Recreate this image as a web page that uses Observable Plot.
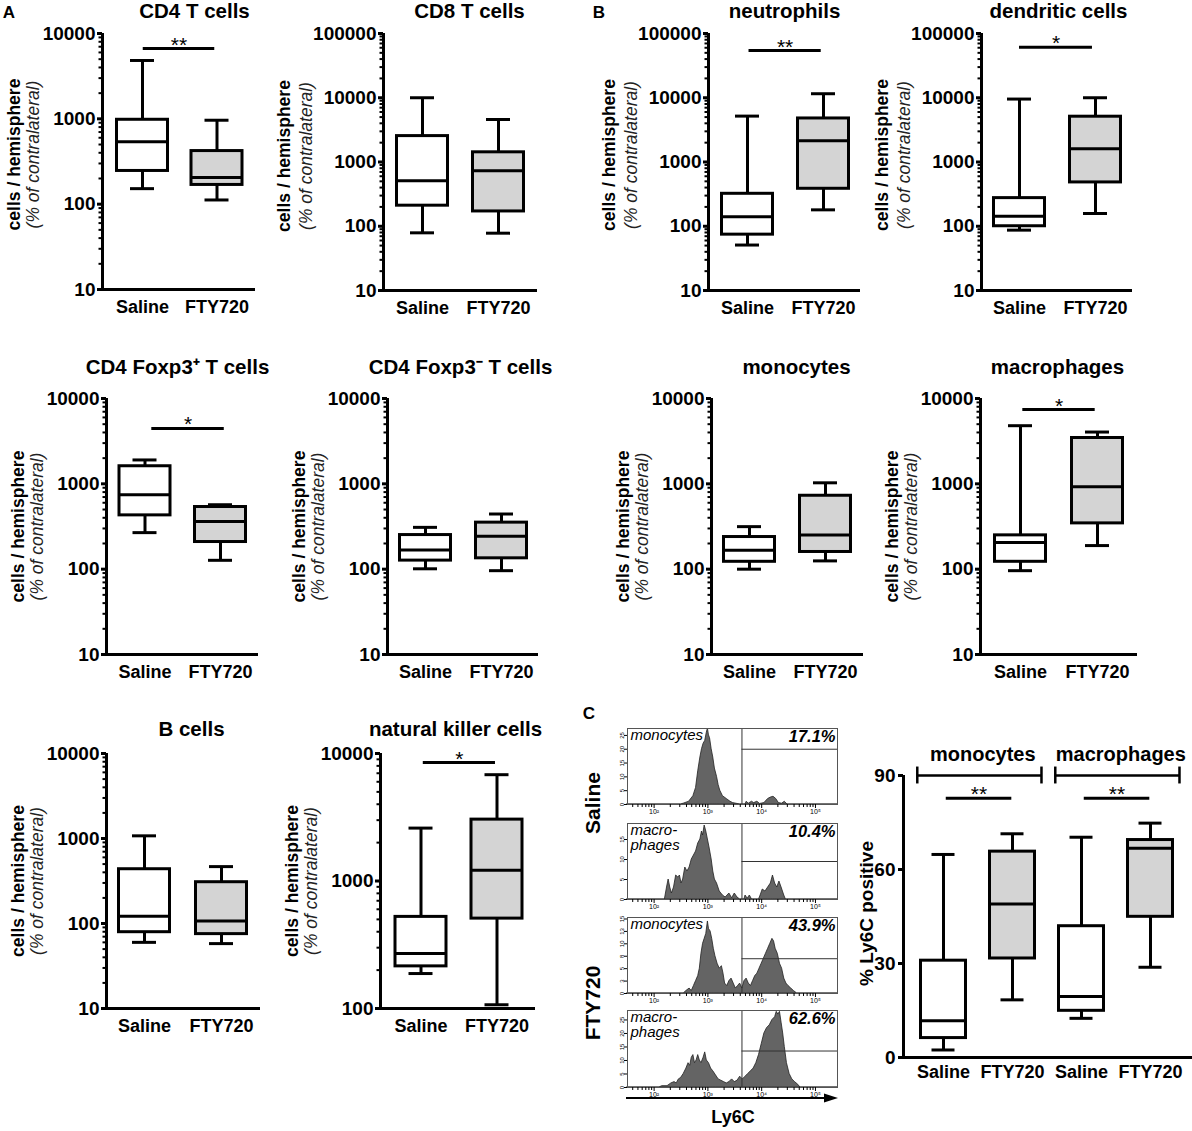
<!DOCTYPE html>
<html><head><meta charset="utf-8">
<script src="https://cdn.jsdelivr.net/npm/d3@7"></script>
<script src="https://cdn.jsdelivr.net/npm/@observablehq/plot@0.6"></script>
<style>
html,body{margin:0;padding:0;background:#fff;}
#fig{position:relative;width:1192px;height:1131px;overflow:hidden;background:#fff;font-family:"Liberation Sans",Arial,sans-serif;color:#000;}
#fig .panel{position:absolute;}
#fig .lbl{position:absolute;white-space:nowrap;line-height:1;font-weight:bold;}
</style></head><body><div id="fig"></div>
<script>
// ---------- DATA ----------
const groups = ["Saline", "FTY720"];
// five-number summaries per group: [min, Q1, median, Q3, max]  (cells / hemisphere, % of contralateral)
const cd4TCells      = [[152, 245, 540, 975, 4830], [112, 168, 205, 419, 963]];
const cd8TCells      = [[79, 209, 512, 2530, 10000], [78, 170, 732, 1415, 4590]];
const neutrophils    = [[51, 74, 141, 320, 5180], [180, 383, 2150, 4760, 11550]];
const dendriticCells = [[87, 100, 143, 274, 9540], [158, 481, 1610, 5070, 10000]];
const cd4Foxp3Pos    = [[268, 427, 745, 1607, 1905], [127, 208, 363, 535, 569]];
const cd4Foxp3Neg    = [[101, 126, 168, 251, 309], [96, 134, 243, 351, 443]];
const monocytes      = [[100, 122, 167, 238, 315], [125, 159, 252, 725, 1028]];
const macrophages    = [[96, 122, 205, 249, 4800], [189, 344, 923, 3445, 4045]];
const bCells         = [[60, 79, 122, 435, 1075], [58, 75, 107, 306, 467]];
const nkCells        = [[188, 214, 270, 523, 2600], [107, 507, 1212, 3030, 6820]];

// panel C: % Ly6C positive
const ly6cGroups   = ["Saline", "FTY720", "Saline", "FTY720"];
const ly6cCellType = ["monocytes", "macrophages"];
const ly6cPositive = [[2.4, 6.2, 11.7, 30.9, 64.8], [18.4, 31.6, 49, 65.7, 71.4],
                      [12.5, 14.9, 19.5, 41.9, 70.3], [28.8, 44.9, 66.8, 69.4, 74.8]];

// panel C histograms: [log10 Ly6C, count]
const histSalineMonocytes = [[1.5,0],[2.5,0],[2.55,0.3],[2.65,1],[2.73,3],[2.78,6],[2.82,12],[2.86,17],[2.89,20],[2.92,22],[2.95,23],[2.98,26],[3.0,27.5],[3.02,25],[3.04,24],[3.07,20],[3.1,17],[3.13,13],[3.17,10],[3.2,7],[3.23,5],[3.28,3],[3.35,2],[3.42,1],[3.47,0.5],[3.55,0.2],[3.6,0],[3.7,0],[3.72,1],[3.76,0.3],[3.82,1],[3.86,0.5],[3.92,1],[3.97,0.2],[4.05,0.5],[4.12,2],[4.17,2.5],[4.22,2.8],[4.27,2],[4.32,0.5],[4.38,0.3],[4.43,1],[4.48,0],[5.41,0]];
const histSalineMacrophages = [[1.5,0],[2.2,0],[2.24,3],[2.27,5],[2.3,3],[2.33,1.5],[2.37,3],[2.41,6],[2.45,5.5],[2.48,6],[2.51,4],[2.54,5],[2.58,8],[2.62,7],[2.66,8],[2.7,10],[2.74,11],[2.78,12],[2.82,14],[2.86,15],[2.89,17],[2.91,16],[2.94,18.5],[2.97,17],[3.0,15],[3.03,13],[3.07,10],[3.1,7],[3.13,5],[3.17,4],[3.22,2],[3.28,1],[3.33,0.5],[3.4,1.5],[3.45,0.3],[3.5,1.5],[3.55,0.5],[3.6,0],[3.68,0],[3.7,1],[3.74,0.2],[3.78,1],[3.82,0],[3.95,0],[3.98,1],[4.02,2.5],[4.07,2],[4.12,3],[4.17,4],[4.21,6],[4.25,4],[4.29,3],[4.33,4.5],[4.37,3],[4.42,1],[4.45,0],[5.41,0]];
const histFtyMonocytes = [[1.5,0],[2.55,0],[2.6,0.5],[2.66,1],[2.7,0.5],[2.74,1.5],[2.78,2.5],[2.82,3.5],[2.85,5],[2.88,8],[2.91,10],[2.94,11],[2.97,12],[3.0,14.5],[3.02,13],[3.05,12.5],[3.08,11],[3.11,9],[3.14,7.5],[3.18,6],[3.22,5],[3.26,5.5],[3.29,4],[3.32,2],[3.36,1.5],[3.4,2.5],[3.44,3],[3.48,2],[3.52,1],[3.56,1.5],[3.6,2],[3.64,1],[3.68,2.5],[3.72,3],[3.76,2],[3.8,1.5],[3.84,2.5],[3.88,3.5],[3.92,4],[3.96,5],[4.0,6],[4.04,7],[4.08,8],[4.12,9],[4.16,10],[4.2,11],[4.23,10.5],[4.26,9],[4.3,8],[4.34,6],[4.38,5],[4.42,3],[4.46,2],[4.5,1.5],[4.55,1],[4.6,0.5],[4.66,0],[5.41,0]];
const histFtyMacrophages = [[1.5,0],[2.1,0],[2.15,0.5],[2.25,0.5],[2.32,1.5],[2.38,2],[2.42,1.5],[2.46,3],[2.5,3.5],[2.55,5],[2.6,7],[2.64,9],[2.67,8],[2.7,11],[2.73,12],[2.76,9],[2.79,10],[2.82,12],[2.85,10],[2.88,9],[2.92,11],[2.95,13],[2.98,10],[3.02,9],[3.06,7],[3.1,6],[3.15,4.5],[3.2,3],[3.25,2.5],[3.3,2],[3.35,1.5],[3.4,2],[3.45,3],[3.5,2],[3.55,2.5],[3.6,4],[3.65,3],[3.7,4],[3.75,5],[3.8,6],[3.85,7],[3.9,9],[3.95,12],[4.0,16],[4.05,20],[4.1,22],[4.15,23],[4.2,25],[4.25,26],[4.28,28],[4.31,27],[4.34,28],[4.37,24],[4.4,20],[4.43,15],[4.47,9],[4.52,5],[4.57,3],[4.62,2],[4.68,1],[4.72,0],[5.41,0]];
const ly6cPercent = ["17.1%", "10.4%", "43.9%", "62.6%"];
const ly6cGate = 4300;

// ---------- LAYOUT ----------
const FONT = '"Liberation Sans", Arial, sans-serif';
const fig = document.getElementById("fig");
function place(node, left, top) {
  const w = document.createElement("div");
  w.className = "panel"; w.style.left = left + "px"; w.style.top = top + "px";
  w.appendChild(node); fig.appendChild(w);
}
function label(text, cx, cy, size, rotate) {
  const d = document.createElement("div");
  d.className = "lbl"; d.textContent = text;
  d.style.left = cx + "px"; d.style.top = cy + "px"; d.style.fontSize = size + "px";
  d.style.transform = "translate(-50%,-50%)" + (rotate ? ` rotate(${rotate}deg)` : "");
  fig.appendChild(d);
}
function logTicks(lo, hi) {
  const major = [], minor = [];
  for (let d = lo; d <= hi; d *= 10) {
    major.push(d);
    if (d * 10 <= hi) for (let m = 2; m <= 9; m++) minor.push(d * m);
  }
  return {major, minor};
}
const baseStyle = {background: "transparent", overflow: "visible", maxWidth: "none", fontFamily: FONT, color: "#000"};

const panels = [
  {title: "CD4 T cells", stats: cd4TCells, domain: [10, 1e4], frame: [102, 255, 33, 289], centers: [142, 216.5], titleX: 194, titleDy: -22, labelDy: -7, sig: "**", sigY: 6670, sigX: [0.01, 0.97]},
  {title: "CD8 T cells", stats: cd8TCells, domain: [10, 1e5], frame: [383, 537, 33, 290], centers: [422, 498], titleX: 469, titleDy: -22, labelDy: -6},
  {title: "neutrophils", stats: neutrophils, domain: [10, 1e5], frame: [708, 860, 33, 290], centers: [747, 823], titleX: 784, titleDy: -22, labelDy: -7, sig: "**", sigY: 54300, sigX: [0.02, 0.97]},
  {title: "dendritic cells", stats: dendriticCells, domain: [10, 1e5], frame: [981, 1132, 33, 290], centers: [1019, 1095], titleX: 1058, titleDy: -22, labelDy: -7, sig: "*", sigY: 61200, sigX: [0, 0.96]},
  {title: "CD4 Foxp3\u207A T cells", stats: cd4Foxp3Pos, domain: [10, 1e4], frame: [106, 258, 398, 654], centers: [144.5, 220], titleX: 177, titleDy: -31, labelDy: 0, sig: "*", sigY: 4460, sigX: [0.09, 1.05]},
  {title: "CD4 Foxp3\u207B T cells", stats: cd4Foxp3Neg, domain: [10, 1e4], frame: [387, 538, 398, 654], centers: [425, 501], titleX: 460, titleDy: -31, labelDy: 0},
  {title: "monocytes", stats: monocytes, domain: [10, 1e4], frame: [711, 863, 398, 654], centers: [749, 825], titleX: 796, titleDy: -31, labelDy: 0},
  {title: "macrophages", stats: macrophages, domain: [10, 1e4], frame: [980, 1137, 398, 654], centers: [1020, 1097], titleX: 1057, titleDy: -31, labelDy: 0, sig: "*", sigY: 7430, sigX: [0.03, 0.97]},
  {title: "B cells", stats: bCells, domain: [10, 1e4], frame: [106, 260, 753, 1008], centers: [144, 221], titleX: 191, titleDy: -24, labelDy: 0},
  {title: "natural killer cells", stats: nkCells, domain: [100, 1e4], frame: [380, 535, 753, 1008], centers: [420.5, 496.5], titleX: 455, titleDy: -24, labelDy: 0, sig: "*", sigY: 8490, sigX: [0.03, 0.98]}
];

function boxPanel(p) {
  const [x0, x1, y0, y1] = p.frame;
  const [c0, c1] = p.centers;
  const k = c1 - c0;
  const mL = Math.min(120, x0), mT = Math.min(42, y0), mR = 14, mB = 34;
  const sx = x0 - mL, sy = y0 - mT;
  const width = x1 - sx + mR, height = y1 - sy + mB;
  const xd = [(x0 - c0) / k, 1 + (x1 - c1) / k];
  const rows = p.stats.map((s, i) => ({i, g: groups[i], min: s[0], q1: s[1], med: s[2], q3: s[3], max: s[4]}));
  const bh = 25.5 / k, ch = 12 / k;
  const {major, minor} = logTicks(p.domain[0], p.domain[1]);
  const wide = String(p.domain[1]).length > 5;
  const marks = [
    Plot.ruleX(rows, {x: "i", y1: "min", y2: "q1", strokeWidth: 3}),
    Plot.ruleX(rows, {x: "i", y1: "q3", y2: "max", strokeWidth: 3}),
    Plot.ruleY(rows, {y: "min", x1: d => d.i - ch, x2: d => d.i + ch, strokeWidth: 3}),
    Plot.ruleY(rows, {y: "max", x1: d => d.i - ch, x2: d => d.i + ch, strokeWidth: 3}),
    Plot.rect(rows, {x1: d => d.i - bh, x2: d => d.i + bh, y1: "q1", y2: "q3", fill: d => d.i ? "#d4d4d4" : "#ffffff", stroke: "#000", strokeWidth: 3}),
    Plot.ruleY(rows, {y: "med", x1: d => d.i - bh, x2: d => d.i + bh, strokeWidth: 3}),
    Plot.axisY({ticks: major, tickFormat: d => String(d), tickSize: 5, tickPadding: 2, strokeWidth: 3, fontSize: 19, fontWeight: "bold", label: null}),
    Plot.axisY({ticks: minor, tickFormat: () => "", tickSize: 3.5, strokeWidth: 2, label: null}),
    Plot.ruleX([xd[0]], {strokeWidth: 3}),
    Plot.ruleY([p.domain[0]], {strokeWidth: 3}),
    Plot.text(rows, {x: "i", text: "g", frameAnchor: "bottom", dy: 18, lineAnchor: "middle", fontSize: 18, fontWeight: "bold"}),
    Plot.text([p.title], {x: (p.titleX - c0) / k, text: d => d, frameAnchor: "top", dy: p.titleDy, lineAnchor: "middle", fontSize: 20.5, fontWeight: "bold"}),
    Plot.text(["cells / hemisphere"], {text: d => d, frameAnchor: "left", dx: wide ? -99 : -88, dy: p.labelDy, textAnchor: "middle", lineAnchor: "middle", rotate: -90, fontSize: 17.5, fontWeight: "bold"}),
    Plot.text(["(% of contralateral)"], {text: d => d, frameAnchor: "left", dx: wide ? -77 : -69, dy: p.labelDy, textAnchor: "middle", lineAnchor: "middle", rotate: -90, fontSize: 17.5, fontStyle: "italic", fill: "#222"})
  ];
  if (p.sig) {
    marks.push(Plot.ruleY([p.sigY], {y: d => d, x1: p.sigX[0], x2: p.sigX[1], strokeWidth: 3}));
    marks.push(Plot.text([p.sig], {text: d => d, x: (p.sigX[0] + p.sigX[1]) / 2, y: p.sigY, lineAnchor: "bottom", dy: 3, fontSize: 21}));
  }
  const svg = Plot.plot({
    width, height, marginLeft: mL, marginRight: mR, marginTop: mT, marginBottom: mB,
    x: {type: "linear", domain: xd, axis: null},
    y: {type: "log", domain: p.domain, label: null},
    style: baseStyle, marks
  });
  place(svg, sx, sy);
}
panels.forEach(boxPanel);

// ---------- PANEL C: box plot ----------
(function () {
  const x0 = 903, x1 = 1192, y0 = 775, y1 = 1057, c0 = 943, step = 69;
  const mL = 60, mT = 45, mR = 0, mB = 32;
  const xd = [(x0 - c0) / step, (x1 - c0) / step];
  const rows = ly6cPositive.map((s, i) => ({i, g: ly6cGroups[i], min: s[0], q1: s[1], med: s[2], q3: s[3], max: s[4]}));
  const bh = 22.5 / step, ch = 11.5 / step;
  const brackets = ly6cCellType.map((t, j) => ({t, a: 2 * j - 0.38, b: 2 * j + 1.42, m: 2 * j + 0.57}));
  const ends = brackets.flatMap(b => [b.a, b.b]);
  const sigs = ly6cCellType.map((t, j) => ({a: 2 * j + 0.04, b: 2 * j + 0.99, y: 82.7}));
  const svg = Plot.plot({
    width: mL + (x1 - x0) + mR, height: mT + (y1 - y0) + mB,
    marginLeft: mL, marginRight: mR, marginTop: mT, marginBottom: mB,
    x: {type: "linear", domain: xd, axis: null},
    y: {domain: [0, 90], label: null},
    style: baseStyle,
    marks: [
      Plot.ruleX(rows, {x: "i", y1: "min", y2: "q1", strokeWidth: 3}),
      Plot.ruleX(rows, {x: "i", y1: "q3", y2: "max", strokeWidth: 3}),
      Plot.ruleY(rows, {y: "min", x1: d => d.i - ch, x2: d => d.i + ch, strokeWidth: 3}),
      Plot.ruleY(rows, {y: "max", x1: d => d.i - ch, x2: d => d.i + ch, strokeWidth: 3}),
      Plot.rect(rows, {x1: d => d.i - bh, x2: d => d.i + bh, y1: "q1", y2: "q3", fill: d => d.i % 2 ? "#d4d4d4" : "#ffffff", stroke: "#000", strokeWidth: 3}),
      Plot.ruleY(rows, {y: "med", x1: d => d.i - bh, x2: d => d.i + bh, strokeWidth: 3}),
      Plot.axisY({ticks: [0, 30, 60, 90], tickSize: 5, tickPadding: 3, strokeWidth: 3, fontSize: 19, fontWeight: "bold", label: null}),
      Plot.ruleX([xd[0]], {strokeWidth: 3}),
      Plot.ruleY([0], {strokeWidth: 3}),
      Plot.text(rows, {x: "i", text: "g", frameAnchor: "bottom", dy: 15, lineAnchor: "middle", fontSize: 18, fontWeight: "bold"}),
      Plot.ruleY(brackets, {y: () => 90, x1: "a", x2: "b", strokeWidth: 2.5}),
      Plot.ruleX(ends, {x: d => d, y1: () => 87.3, y2: () => 92.7, strokeWidth: 2.5}),
      Plot.text(brackets, {x: "m", text: "t", frameAnchor: "top", dy: -21, lineAnchor: "middle", fontSize: 20, fontWeight: "bold"}),
      Plot.ruleY(sigs, {y: "y", x1: "a", x2: "b", strokeWidth: 3}),
      Plot.text(sigs, {x: d => (d.a + d.b) / 2, y: "y", text: () => "**", lineAnchor: "bottom", dy: 3, fontSize: 21}),
      Plot.text(["% Ly6C positive"], {text: d => d, frameAnchor: "left", dx: -37, dy: -3, textAnchor: "middle", lineAnchor: "middle", rotate: -90, fontSize: 19, fontWeight: "bold"})
    ]
  });
  place(svg, x0 - mL, y0 - mT);
})();

// ---------- PANEL C: histograms ----------
const ly6cDomain = [32, 257000];
const supDigits = {2: "\u00B2", 3: "\u00B3", 4: "\u2074", 5: "\u2075"};
const histPanels = [
  {name: ["monocytes"], pct: ly6cPercent[0], data: histSalineMonocytes, ymax: 27.5, yticks: [0, 5, 10, 15, 20, 25], gateY: 20, frame: [627, 837, 728, 804]},
  {name: ["macro-", "phages"], pct: ly6cPercent[1], data: histSalineMacrophages, ymax: 19, yticks: [0, 5, 10, 15], gateY: 9.5, frame: [627, 837, 823, 899]},
  {name: ["monocytes"], pct: ly6cPercent[2], data: histFtyMonocytes, ymax: 15.3, yticks: [0, 2.5, 5, 7.5, 10, 12.5, 15], gateY: 7, frame: [627, 837, 917, 993]},
  {name: ["macro-", "phages"], pct: ly6cPercent[3], data: histFtyMacrophages, ymax: 28.5, yticks: [0, 5, 10, 15, 20, 25], gateY: 13.5, frame: [627, 837, 1010, 1087]}
];
const histTicks = logTicks(10, 1e5);
histPanels.forEach(h => {
  const [x0, x1, y0, y1] = h.frame;
  const mL = 18, mR = 6, mT = 4, mB = 14;
  const svg = Plot.plot({
    width: x1 - x0 + mL + mR, height: y1 - y0 + mT + mB,
    marginLeft: mL, marginRight: mR, marginTop: mT, marginBottom: mB,
    x: {type: "log", domain: ly6cDomain, label: null},
    y: {domain: [0, h.ymax], label: null},
    style: baseStyle,
    marks: [
      Plot.areaY(h.data, {x: d => 10 ** d[0], y: d => d[1], fill: "#646464", stroke: "#222", strokeWidth: 0.8}),
      Plot.ruleX([ly6cGate], {stroke: "#333", strokeWidth: 1}),
      Plot.ruleY([h.gateY], {y: d => d, x1: ly6cGate, x2: ly6cDomain[1], stroke: "#333", strokeWidth: 1}),
      Plot.frame({stroke: "#555", strokeWidth: 1}),
      Plot.axisX({ticks: histTicks.major.filter(d => d >= 100), tickFormat: d => "10" + supDigits[Math.round(Math.log10(d))], tickSize: 4, tickPadding: 1, fontSize: 7, label: null}),
      Plot.axisX({ticks: histTicks.minor.filter(d => d >= ly6cDomain[0]), tickFormat: () => "", tickSize: 3, label: null}),
      Plot.axisY({ticks: h.yticks, tickSize: 3, tickPadding: 1, fontSize: 6, tickRotate: -90, label: null}),
      ...h.name.map((line, j) => Plot.text([line], {text: d => d, frameAnchor: "top-left", dx: 3, dy: 1 + j * 15, lineAnchor: "top", textAnchor: "start", fontSize: 15, fontStyle: "italic"})),
      Plot.text([h.pct], {text: d => d, frameAnchor: "top-right", dx: -2, dy: 2, lineAnchor: "top", textAnchor: "end", fontSize: 16.5, fontStyle: "italic", fontWeight: "bold"})
    ]
  });
  place(svg, x0 - mL, y0 - mT);
});

// panel letters and side labels
label("A", 9, 12, 17);
label("B", 599, 12, 17);
label("C", 589, 713, 17);
label("Saline", 592, 803, 21, -90);
label("FTY720", 592, 1003, 21, -90);
label("Ly6C", 733, 1117, 18);
// Ly6C axis arrow
(function () {
  const ns = "http://www.w3.org/2000/svg";
  const s = document.createElementNS(ns, "svg");
  s.setAttribute("width", 230); s.setAttribute("height", 16);
  s.innerHTML = '<line x1="6" y1="8" x2="206" y2="8" stroke="#000" stroke-width="2"/><path d="M218,8 L204,3.5 L204,12.5 Z" fill="#000"/>';
  place(s, 620, 1090);
})();
</script></body></html>
